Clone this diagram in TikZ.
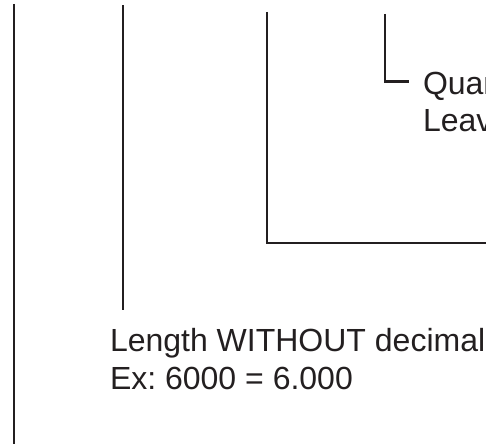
\documentclass[tikz,border=0pt]{standalone}
\usepackage{fontspec}
\setmainfont{Liberation Sans}
\definecolor{ink}{RGB}{35,31,32}
\frenchspacing
\begin{document}
\begin{tikzpicture}[x=1pt,y=-1pt,
  leader/.style={draw=ink,line width=2.2pt},
  label/.style={anchor=base west,inner sep=0pt,outer sep=0pt,text=ink,
    font=\fontsize{32}{38}\selectfont}]
\useasboundingbox (0,0) rectangle (486,444);
% text
\node[label] (q1) at (423,94) {Quan};
\node[label] (q2) at (423,131.5) {Leav};
\node[label] (len1) at (110,351.5) {Length WITHOUT decimal};
\node[label] (len2) at (110,389.5) {Ex: 6000 = 6.000};
% leader end points
\coordinate (a1) at (14,4);
\coordinate (a2) at (14,444);
\coordinate (b1) at (123,5.5);
\coordinate (b2) at (123,310);
\coordinate (c1) at (267,12);
\coordinate (c2) at (267,243);
\coordinate (c3) at (486,243);
\coordinate (d1) at (385,14);
\coordinate (d2) at (385,81.5);
\coordinate (d3) at (409,81.5);
% leaders
\draw[leader] (a1) -- (a2);
\draw[leader] (b1) -- (b2);
\draw[leader] (c1) -- (c2) -- (c3);
\draw[leader] (d1) -- (d2) -- (d3);
\end{tikzpicture}
\end{document}
